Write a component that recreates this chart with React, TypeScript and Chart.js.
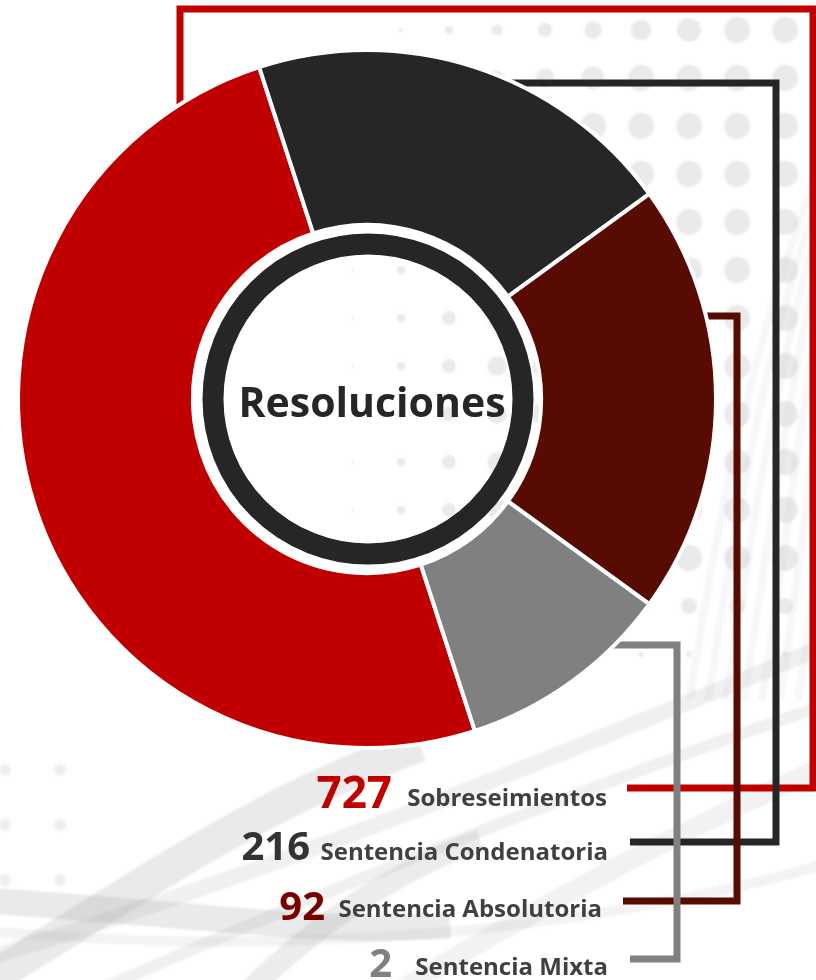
import { useEffect, useRef } from "react";
import { Chart, registerables } from "chart.js";

Chart.register(...registerables);

// ---- data ----
const categories = ["Sobreseimientos", "Sentencia Condenatoria", "Sentencia Absolutoria", "Sentencia Mixta"];
const counts = [727, 216, 92, 2];
const sliceShares = [50, 20, 20, 10];
const sliceColors = ["#C00000", "#262626", "#580B03", "#808080"];
const numberColors = ["#C00000", "#333333", "#7A0000", "#808080"];
const centerTitle = "Resoluciones";

const W = 816;
const H = 980;
const FONT = "'Open Sans', 'DejaVu Sans', sans-serif";

function drawBackground(ctx: CanvasRenderingContext2D) {
  ctx.save();
  ctx.fillStyle = "#ffffff";
  ctx.fillRect(0, 0, W, H);

  ctx.filter = "blur(1.2px)";
  // halftone dots
  for (let y = 30; y < 680; y += 48) {
    for (let x = 17; x < 840; x += 48) {
      let r = (x - 330) / 17;
      r *= Math.min(1, 0.45 + y / 260);
      r = Math.min(13, r);
      if (y > 560) r *= Math.max(0, (680 - y) / 120);
      if (r < 1.2) continue;
      ctx.fillStyle = "rgba(200,200,200,0.38)";
      ctx.beginPath();
      ctx.arc(x, y, r, 0, Math.PI * 2);
      ctx.fill();
    }
  }
  // faint dots bottom-left
  for (let y = 770; y < 900; y += 55) {
    for (let x = 5; x < 80; x += 55) {
      ctx.fillStyle = "rgba(210,210,210,0.35)";
      ctx.beginPath();
      ctx.arc(x, y, 6, 0, Math.PI * 2);
      ctx.fill();
    }
  }

  // diagonal streaks on right
  ctx.strokeStyle = "rgba(200,200,200,0.14)";
  ctx.lineWidth = 8;
  for (let i = 0; i < 8; i++) {
    ctx.beginPath();
    ctx.moveTo(690 + i * 18, 700);
    ctx.bezierCurveTo(720 + i * 18, 500, 760 + i * 14, 300, 840, 120 + i * 20);
    ctx.stroke();
  }

  // swooshes bottom
  const bands: [number, number, number, number, number, number, number, number, number, string][] = [
    [-20, 985, 120, 900, 260, 800, 420, 745, 34, "rgba(150,150,150,0.2)"],
    [-20, 900, 200, 915, 330, 935, 450, 925, 26, "rgba(150,150,150,0.2)"],
    [250, 990, 320, 920, 400, 870, 480, 840, 22, "rgba(150,150,150,0.18)"],
    [-20, 960, 250, 880, 550, 760, 840, 640, 16, "rgba(160,160,160,0.16)"],
    [100, 990, 300, 900, 600, 780, 840, 700, 12, "rgba(160,160,160,0.16)"],
    [400, 990, 550, 900, 700, 820, 840, 760, 20, "rgba(160,160,160,0.14)"],
    [-20, 930, 300, 960, 600, 930, 840, 860, 10, "rgba(170,170,170,0.14)"],
  ];
  for (const b of bands) {
    ctx.strokeStyle = b[9];
    ctx.lineWidth = b[8];
    ctx.beginPath();
    ctx.moveTo(b[0], b[1]);
    ctx.bezierCurveTo(b[2], b[3], b[4], b[5], b[6], b[7]);
    ctx.stroke();
  }
  ctx.filter = "none";
  ctx.restore();
}

function drawBrackets(ctx: CanvasRenderingContext2D) {
  const paths: number[][][] = [
    [[180, 220], [180, 9], [813, 9], [813, 788], [627, 788]],
    [[450, 83], [776, 83], [776, 842], [630, 842]],
    [[640, 316], [737, 316], [737, 901], [623, 901]],
    [[560, 645], [677, 645], [677, 959], [630, 959]],
  ];
  ctx.save();
  ctx.lineWidth = 7;
  ctx.lineJoin = "miter";
  ctx.lineCap = "butt";
  paths.forEach((p, i) => {
    ctx.strokeStyle = sliceColors[i];
    ctx.beginPath();
    ctx.moveTo(p[0][0], p[0][1]);
    for (let k = 1; k < p.length; k++) ctx.lineTo(p[k][0], p[k][1]);
    ctx.stroke();
  });
  ctx.restore();
}

function drawOverlay(ctx: CanvasRenderingContext2D, cx: number, cy: number) {
  ctx.save();
  // ring
  ctx.strokeStyle = "#262626";
  ctx.lineWidth = 21;
  ctx.beginPath();
  ctx.arc(cx + 1, cy, 155, 0, Math.PI * 2);
  ctx.stroke();

  ctx.fillStyle = "#262626";
  ctx.font = `bold 41px ${FONT}`;
  ctx.textAlign = "center";
  ctx.textBaseline = "alphabetic";
  ctx.fillText(centerTitle, cx + 5, 417);

  // labels
  const rows = [
    { labelRight: 607, base: 806, numRight: 392, numBase: 808, numSize: 44 },
    { labelRight: 608, base: 860, numRight: 310, numBase: 860, numSize: 40 },
    { labelRight: 602, base: 917, numRight: 325, numBase: 920, numSize: 40 },
    { labelRight: 608, base: 975, numRight: 392, numBase: 977, numSize: 40 },
  ];
  ctx.textAlign = "right";
  rows.forEach((r, i) => {
    ctx.fillStyle = "#404040";
    ctx.font = `bold 24px ${FONT}`;
    ctx.fillText(categories[i], r.labelRight, r.base);
    ctx.fillStyle = numberColors[i];
    ctx.font = `bold ${r.numSize}px ${FONT}`;
    ctx.fillText(String(counts[i]), r.numRight, r.numBase);
  });
  ctx.restore();
}

const decorPlugin = {
  id: "decor",
  beforeDraw(chart: any) {
    const ctx = chart.ctx as CanvasRenderingContext2D;
    drawBackground(ctx);
    drawBrackets(ctx);
  },
  afterDraw(chart: any) {
    const ctx = chart.ctx as CanvasRenderingContext2D;
    const arc = chart.getDatasetMeta(0).data[0] as any;
    drawOverlay(ctx, arc.x, arc.y);
  },
};

export default function App() {
  const ref = useRef<HTMLCanvasElement | null>(null);
  useEffect(() => {
    if (!ref.current) return;
    const chart = new Chart(ref.current, {
      type: "doughnut",
      data: {
        labels: categories,
        datasets: [
          {
            data: sliceShares,
            backgroundColor: sliceColors,
            borderColor: "#ffffff",
            borderWidth: 4,
          },
        ],
      },
      options: {
        responsive: false,
        animation: false,
        rotation: 162,
        cutout: "49.9%",
        layout: { padding: { left: 16, top: 48, right: 98, bottom: 230 } },
        plugins: {
          legend: { display: false },
          tooltip: { enabled: false },
        },
        events: [],
      },
      plugins: [decorPlugin],
    });
    return () => chart.destroy();
  }, []);
  return (
    <div style={{ position: "absolute", left: 0, top: 0, width: W, height: H }}>
      <canvas ref={ref} width={W} height={H} style={{ width: W, height: H, display: "block" }} />
    </div>
  );
}
